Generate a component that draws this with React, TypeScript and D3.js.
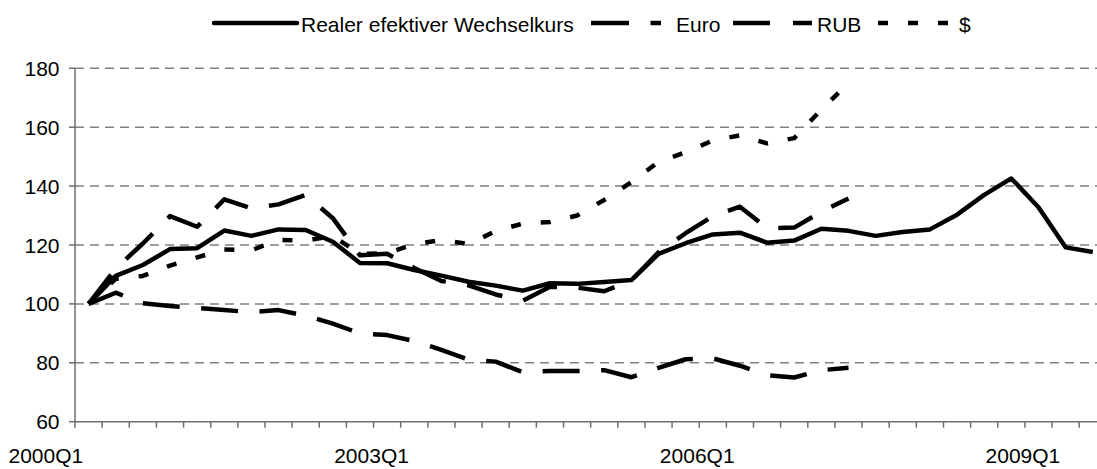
import React from "react";
import * as d3 from "d3";

const categories = [
  "2000Q1","2000Q2","2000Q3","2000Q4","2001Q1","2001Q2","2001Q3","2001Q4",
  "2002Q1","2002Q2","2002Q3","2002Q4","2003Q1","2003Q2","2003Q3","2003Q4",
  "2004Q1","2004Q2","2004Q3","2004Q4","2005Q1","2005Q2","2005Q3","2005Q4",
  "2006Q1","2006Q2","2006Q3","2006Q4","2007Q1","2007Q2","2007Q3","2007Q4",
  "2008Q1","2008Q2","2008Q3","2008Q4","2009Q1","2009Q2",
];
const labeledCategories = ["2000Q1", "2003Q1", "2006Q1", "2009Q1"];
const yTicks = [60, 80, 100, 120, 140, 160, 180];

const realValues = [
  100, 109.5, 113.2, 118.6, 118.9, 124.9, 123.1, 125.3, 125.1, 121.1,
  113.9, 113.8, 111.5, 109.6, 107.5, 106.2, 104.5, 107, 106.8, 107.4,
  108.1, 117, 120.6, 123.6, 124.2, 120.8, 121.5, 125.5, 124.8, 123.1,
  124.4, 125.3, 130.3, 137, 142.6, 132.8, 119.2, 117.6,
];
const euroValues = [
  100, 103.8, 100.2, 99.3, 98.6, 97.9, 97.2, 97.9, 96, 93.3,
  90, 89.4, 87.4, 84.4, 81.1, 80.4, 76.8, 77.2, 77.2, 77.5,
  75.1, 78.3, 81.2, 81.5, 79, 75.8, 75, 77.5, 78.3,
];
const rubValues = [
  100, 112, 120.5, 129.8, 126.2, 135.5, 132.5, 133.8, 137, 129.1,
  116.5, 117, 112.2, 107.8, 106.3, 103.2, 101.1, 105.8, 105.5, 104.3,
  108, 117.5, 124, 129.8, 133, 125.7, 125.9, 131.3, 135.8,
];
const usdValues = [
  100, 108.5, 109.5, 113, 115.8, 118.5, 118.2, 121.7, 121.5, 123,
  117, 117.2, 120.3, 121.7, 120.3, 124.7, 127.3, 127.8, 130, 135.3,
  141.3, 148.2, 151.5, 155.5, 157.2, 154.5, 156.3, 166, 175,
];

const seriesNames = ["Realer efektiver Wechselkurs", "Euro", "RUB", "$"];

const W = 1097;
const H = 469;
const plotLeft = 75;
const catStep = 27.14;
const plotRight = plotLeft + catStep * categories.length;
const plotTop = 68.3;
const plotBottom = 421.7;
const FONT = "'Liberation Sans', Arial, sans-serif";
const FS = 21;

function SText({ x, y, anchor = "start", children }: any) {
  return (
    <text x={x} y={y} textAnchor={anchor} fontFamily={FONT} fontSize={FS} fill="#000">
      {children}
    </text>
  );
}

export default function App() {
  const x = d3.scaleBand<string>().domain(categories).range([plotLeft, plotRight]).padding(0);
  const y = d3.scaleLinear().domain([60, 180]).range([plotBottom, plotTop]);
  const bw = x.bandwidth();

  const line = d3
    .line<number>()
    .x((_, i) => (x(categories[i]) as number) + bw / 2)
    .y((d) => y(d));

  const series = [
    { name: seriesNames[0], values: realValues, dash: "none" },
    { name: seriesNames[1], values: euroValues, dash: "37,21.5" },
    { name: seriesNames[2], values: rubValues, dash: "37,21.5" },
    { name: seriesNames[3], values: usdValues, dash: "10,20" },
  ];

  const legend = [
    { x1: 214, x2: 297, tx: 301, dash: "none", label: seriesNames[0] },
    { x1: 591, x2: 661, tx: 676, dash: "38,21.5", label: seriesNames[1] },
    { x1: 733, x2: 812, tx: 817, dash: "37,23", label: seriesNames[2] },
    { x1: 878, x2: 948, tx: 959, dash: "10,20", label: seriesNames[3] },
  ];

  return (
    <svg
      width={W}
      height={H}
      style={{ position: "absolute", left: 0, top: 0, background: "#fff" }}
    >
      <rect x={0} y={0} width={W} height={H} fill="#fff" />
      {yTicks.slice(1).map((t) => (
        <line
          key={"g" + t}
          x1={plotLeft}
          x2={plotRight}
          y1={y(t)}
          y2={y(t)}
          stroke="#808080"
          strokeWidth={1.5}
          strokeDasharray="9,6"
        />
      ))}
      <line x1={plotLeft} x2={plotLeft} y1={plotTop} y2={plotBottom} stroke="#6e6e6e" strokeWidth={1.5} />
      {yTicks.map((t) => (
        <g key={"yt" + t}>
          <line x1={plotLeft - 6} x2={plotLeft} y1={y(t)} y2={y(t)} stroke="#6e6e6e" strokeWidth={1.5} />
          <SText x={59.5} y={y(t) + 7.5} anchor="end">{String(t)}</SText>
        </g>
      ))}
      <line x1={plotLeft} x2={plotRight} y1={plotBottom} y2={plotBottom} stroke="#6e6e6e" strokeWidth={1.5} />
      {categories.map((c) => (
        <line
          key={"xt" + c}
          x1={x(c) as number}
          x2={x(c) as number}
          y1={plotBottom}
          y2={plotBottom + 6}
          stroke="#6e6e6e"
          strokeWidth={1.5}
        />
      ))}
      {labeledCategories.map((c) => (
        <SText key={"xl" + c} x={(x(c) as number) + bw / 2 - 42.7} y={462.5} anchor="middle">
          {c}
        </SText>
      ))}
      {series.map((s) => (
        <path
          key={s.name}
          d={line(s.values) || ""}
          fill="none"
          stroke="#000"
          strokeWidth={4.5}
          strokeLinejoin="round"
          strokeLinecap="butt"
          strokeDasharray={s.dash}
        />
      ))}
      {legend.map((l) => (
        <g key={"lg" + l.label}>
          <line
            x1={l.x1}
            x2={l.x2}
            y1={23}
            y2={23}
            stroke="#000"
            strokeWidth={4.5}
            strokeDasharray={l.dash}
            strokeLinecap={l.dash === "none" ? "round" : "butt"}
          />
          <SText x={l.tx} y={32}>{l.label}</SText>
        </g>
      ))}
    </svg>
  );
}
